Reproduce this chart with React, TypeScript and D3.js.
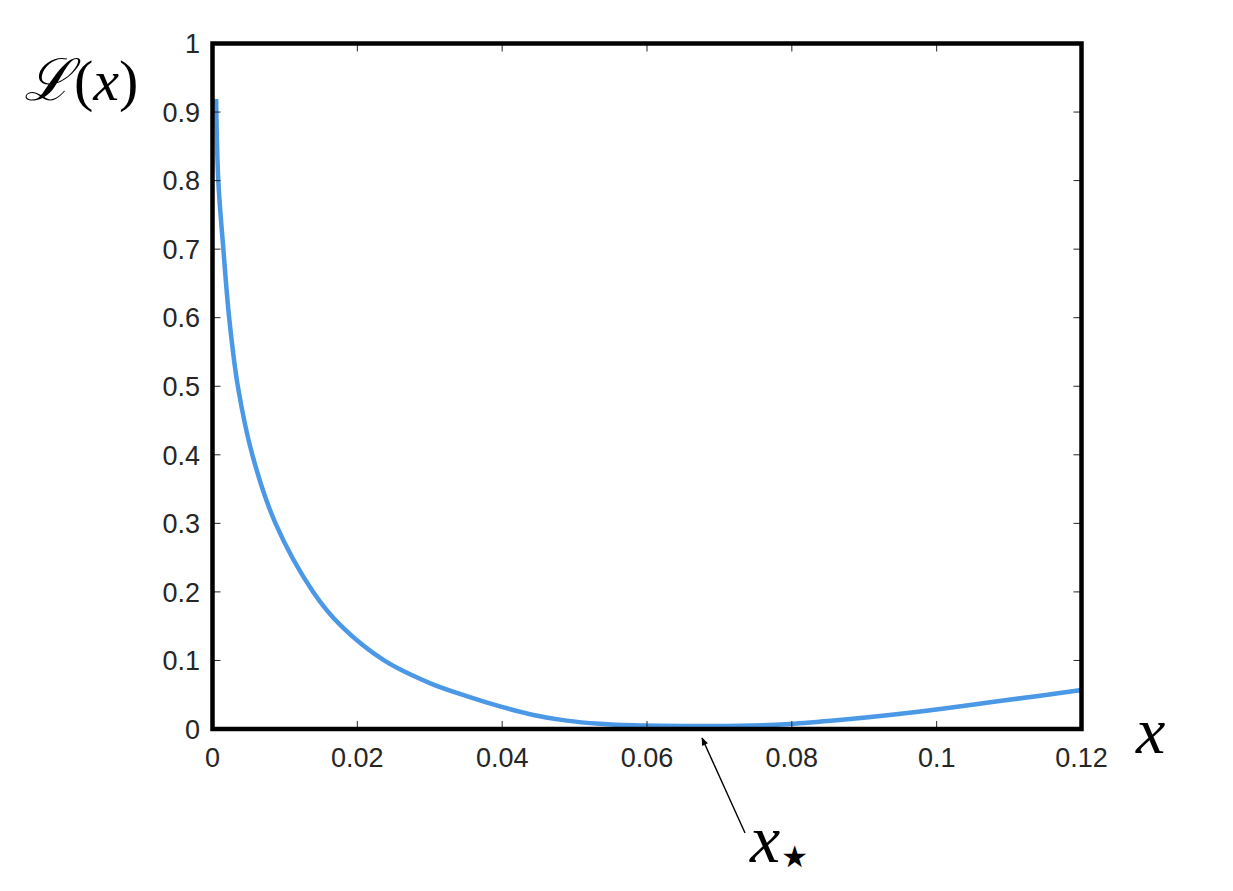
import * as d3 from "d3";

// tick values and their labels
const xTicks = [0, 0.02, 0.04, 0.06, 0.08, 0.1, 0.12];
const xTickLabels = ["0", "0.02", "0.04", "0.06", "0.08", "0.1", "0.12"];
const yTicks = [0, 0.1, 0.2, 0.3, 0.4, 0.5, 0.6, 0.7, 0.8, 0.9, 1];
const yTickLabels = ["0", "0.1", "0.2", "0.3", "0.4", "0.5", "0.6", "0.7", "0.8", "0.9", "1"];

// curve L(x)
const curveX = [
  0.0005, 0.0008, 0.0015, 0.0023, 0.0035, 0.0055, 0.0087, 0.0139, 0.0178, 0.0237,
  0.03, 0.0351, 0.0397, 0.0443, 0.0489, 0.0535, 0.0581, 0.065, 0.0729, 0.0797,
  0.0866, 0.0935, 0.1005, 0.1074, 0.1143, 0.12,
];
const curveY = [
  0.919, 0.8, 0.7, 0.6, 0.5, 0.4, 0.3, 0.2, 0.15, 0.1,
  0.067, 0.048, 0.033, 0.0205, 0.0122, 0.0076, 0.0053, 0.0044, 0.0046, 0.0073,
  0.0131, 0.0204, 0.0292, 0.039, 0.0486, 0.057,
];

// where the arrow points (the minimum)
const xStar = 0.0676;

const width = 1233;
const height = 891;
const left = 212.5;
const right = 1081.5;
const top = 43.5;
const bottom = 729;
const tickLen = 8;

const App = () => {
  const xScale = d3.scaleLinear().domain([0, 0.12]).range([left, right]);
  const yScale = d3.scaleLinear().domain([0, 1]).range([bottom, top]);

  const points = curveX.map((x, i) => [x, curveY[i]] as [number, number]);
  const line = d3
    .line<[number, number]>()
    .x((d) => xScale(d[0]))
    .y((d) => yScale(d[1]))
    .curve(d3.curveCatmullRom.alpha(0.5));

  const tickFont = "'Liberation Sans', Arial, Helvetica, sans-serif";
  const mathFont = "'Liberation Serif', 'DejaVu Serif', serif";

  // arrow from the label up to the minimum
  const tipX = xScale(xStar);
  const tipY = bottom + 9;
  const tailX = tipX + 43;
  const tailY = 833;

  return (
    <svg
      width={width}
      height={height}
      viewBox={`0 0 ${width} ${height}`}
      style={{ position: "absolute", left: 0, top: 0, background: "#fff" }}
    >
      <defs>
        <clipPath id="plot-clip">
          <rect x={left} y={top} width={right - left} height={bottom - top} />
        </clipPath>
        <marker
          id="arrow"
          viewBox="0 0 10 10"
          refX={9}
          refY={5}
          markerWidth={11}
          markerHeight={8}
          orient="auto"
          markerUnits="userSpaceOnUse"
        >
          <path d="M0,1 L10,5 L0,9 z" fill="#000" />
        </marker>
      </defs>

      {/* curve */}
      <path
        d={line(points) ?? ""}
        fill="none"
        stroke="#4a98e6"
        strokeWidth={4.5}
        clipPath="url(#plot-clip)"
      />

      {/* ticks, inside on all four sides */}
      <g className="ticks" stroke="#262626" strokeWidth={1}>
        {xTicks.map((t) => (
          <g key={`xt${t}`}>
            <line x1={xScale(t)} x2={xScale(t)} y1={bottom} y2={bottom - tickLen} />
            <line x1={xScale(t)} x2={xScale(t)} y1={top} y2={top + tickLen} />
          </g>
        ))}
        {yTicks.map((t) => (
          <g key={`yt${t}`}>
            <line x1={left} x2={left + tickLen} y1={yScale(t)} y2={yScale(t)} />
            <line x1={right} x2={right - tickLen} y1={yScale(t)} y2={yScale(t)} />
          </g>
        ))}
      </g>

      {/* frame */}
      <rect
        x={left}
        y={top}
        width={right - left}
        height={bottom - top}
        fill="none"
        stroke="#000"
        strokeWidth={4.5}
      />

      {/* tick labels */}
      <g className="x-labels" fontFamily={tickFont} fontSize={27} fill="#262626">
        {xTicks.map((t, i) => (
          <text key={`xl${t}`} x={xScale(t)} y={767} textAnchor="middle">
            {xTickLabels[i]}
          </text>
        ))}
      </g>
      <g className="y-labels" fontFamily={tickFont} fontSize={27} fill="#262626">
        {yTicks.map((t, i) => (
          <text key={`yl${t}`} x={200} y={yScale(t)} dy="0.36em" textAnchor="end">
            {yTickLabels[i]}
          </text>
        ))}
      </g>

      {/* axis labels */}
      <text x={24} y={100} fontFamily={mathFont} fontSize={58} fill="#000">
        <tspan fontStyle="italic">ℒ</tspan>
        <tspan dx={2}>(</tspan>
        <tspan fontStyle="italic">x</tspan>
        <tspan>)</tspan>
      </text>
      <text x={1136} y={753} fontFamily={mathFont} fontSize={66} fontStyle="italic" fill="#000">
        x
      </text>

      {/* x* annotation */}
      <line
        x1={tailX}
        y1={tailY}
        x2={tipX}
        y2={tipY}
        stroke="#000"
        strokeWidth={1.4}
        markerEnd="url(#arrow)"
      />
      <text x={750} y={862} fontFamily={mathFont} fontSize={68} fontStyle="italic" fill="#000">
        x
        <tspan
          fontFamily="'DejaVu Sans', sans-serif"
          fontStyle="normal"
          fontWeight="bold"
          fontSize={30}
          dx={1}
          dy={5}
        >
          ★
        </tspan>
      </text>
    </svg>
  );
};

export default App;
